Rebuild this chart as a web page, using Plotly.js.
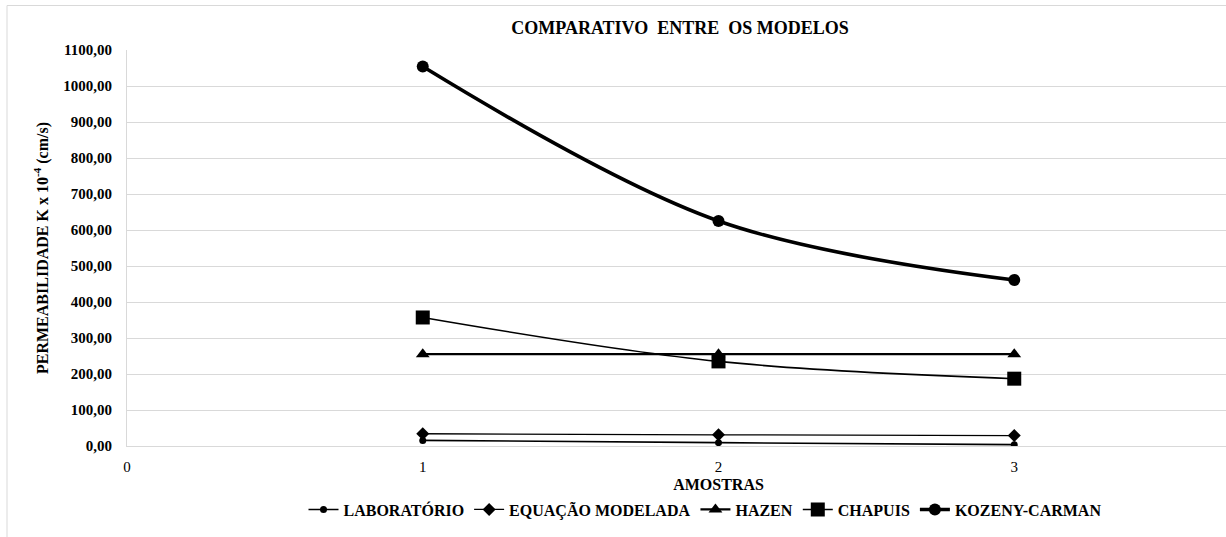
<!DOCTYPE html>
<html>
<head>
<meta charset="utf-8">
<script src="https://cdn.plot.ly/plotly-3.0.1.min.js"></script>
<style>
html,body{margin:0;padding:0;overflow:hidden;background:#fff;}
#chart{width:1320px;height:537px;}
</style>
</head>
<body>
<div id="chart"></div>
<script>
const amostras = [1, 2, 3];
const laboratorio = [15.6, 9.3, 3.8];
const equacaoModelada = [34, 31, 29];
const hazen = [255, 255, 255];
const chapuis = [357, 235, 187];
const kozenyCarman = [1054, 625, 461];
const seriesNames = ['LABORATÓRIO', 'EQUAÇÃO MODELADA', 'HAZEN', 'CHAPUIS', 'KOZENY-CARMAN'];
const yTickVals = [0,100,200,300,400,500,600,700,800,900,1000,1100];
const xTickVals = [0,1,2,3];

const serif = 'Liberation Serif';

const traces = [
  {x: amostras, y: laboratorio, name: seriesNames[0], mode: 'lines+markers',
   line: {color: '#000', width: 1.6, shape: 'spline'}, marker: {symbol: 'circle', size: 7, color: '#000'}},
  {x: amostras, y: equacaoModelada, name: seriesNames[1], mode: 'lines+markers',
   line: {color: '#000', width: 1.3, shape: 'spline'}, marker: {symbol: 'diamond', size: 10, color: '#000'}},
  {x: amostras, y: hazen, name: seriesNames[2], mode: 'lines+markers',
   line: {color: '#000', width: 2.2, shape: 'spline'}, marker: {symbol: 'triangle-up', size: 12, color: '#000'}},
  {x: amostras, y: chapuis, name: seriesNames[3], mode: 'lines+markers',
   line: {color: '#000', width: 1.6, shape: 'spline'}, marker: {symbol: 'square', size: 14, color: '#000'}},
  {x: amostras, y: kozenyCarman, name: seriesNames[4], mode: 'lines+markers',
   line: {color: '#000', width: 3.6, shape: 'spline'}, marker: {symbol: 'circle', size: 12, color: '#000'}}
];

const layout = {
  width: 1320, height: 537,
  margin: {l: 127, r: 10, t: 50, b: 86},
  paper_bgcolor: '#fff', plot_bgcolor: '#fff',
  separators: ',.',
  font: {family: serif, color: '#000', size: 15},
  title: {text: 'COMPARATIVO  ENTRE  OS MODELOS', font: {family: serif, size: 18, weight: 'bold', color: '#000'},
          x: 680/1320, xref: 'container', xanchor: 'center', y: 1 - 28/537, yref: 'container', yanchor: 'middle'},
  xaxis: {range: [0, 4], tickvals: xTickVals, showgrid: false, zeroline: false, automargin: false,
          showline: true, linecolor: '#d9d9d9', linewidth: 1,
          tickfont: {family: serif, size: 15, color: '#000'}, ticks: '', ticklabelstandoff: 7,
          title: {text: 'AMOSTRAS', font: {family: serif, size: 16, weight: 'bold', color: '#000'}, standoff: 4}},
  yaxis: {range: [0, 1100], tickvals: yTickVals, tickformat: '.2f', showgrid: true, gridcolor: '#d9d9d9', gridwidth: 1,
          zeroline: false, showline: true, linecolor: '#d9d9d9', linewidth: 1, ticks: '', automargin: false,
          ticklabelstandoff: 11,
          tickfont: {family: serif, size: 15, weight: 'bold', color: '#000'},
          title: {text: 'PERMEABILIDADE K x 10<sup>-4</sup> (cm/s)', font: {family: serif, size: 16, weight: 'bold', color: '#000'}, standoff: 10}},
  showlegend: true,
  legend: {orientation: 'h', x: (705-127)/1183, xanchor: 'center', y: (450.7-515)/400.7, yanchor: 'middle',
           font: {family: serif, size: 16, weight: 'bold', color: '#000'}, itemwidth: 30, tracegroupgap: 0,
           bgcolor: 'rgba(0,0,0,0)'},
  shapes: [
    {type: 'line', xref: 'paper', yref: 'paper', x0: (7-127)/1183, x1: 1.1, y0: (450.7-5)/400.7, y1: (450.7-5)/400.7,
     line: {color: '#d9d9d9', width: 1}},
    {type: 'line', xref: 'paper', yref: 'paper', x0: (7-127)/1183, x1: (7-127)/1183, y0: (450.7-5)/400.7, y1: -0.3,
     line: {color: '#d9d9d9', width: 1}}
  ]
};

Plotly.newPlot('chart', traces, layout, {displayModeBar: false, staticPlot: true});
</script>
</body>
</html>
